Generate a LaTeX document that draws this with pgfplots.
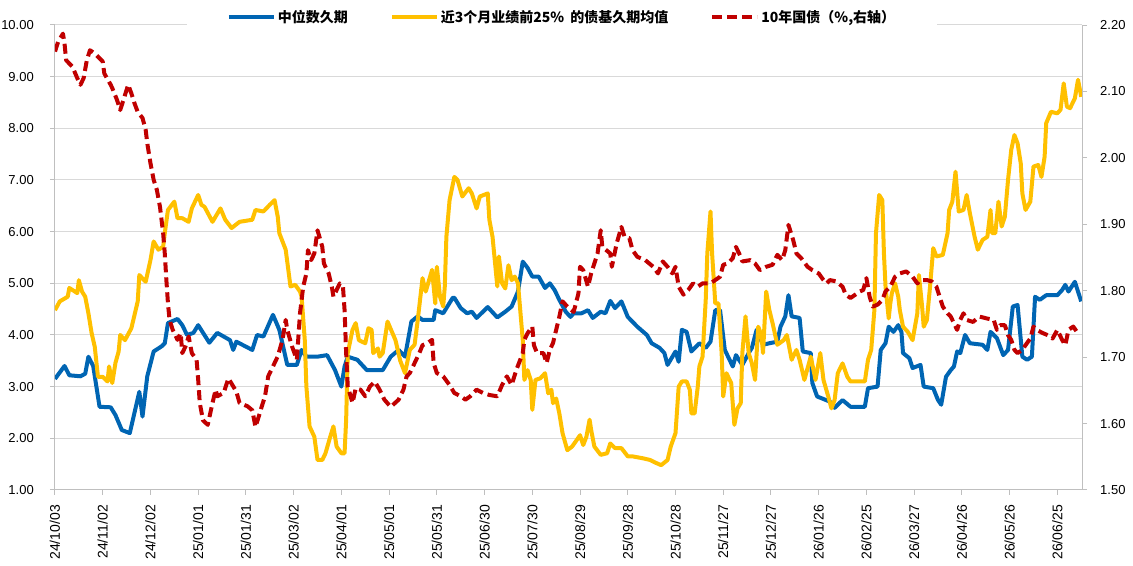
\documentclass[border=0pt]{standalone}
\usepackage{fontspec}
\setmainfont{Liberation Sans}
\newfontfamily\cjk{Noto Sans CJK SC}
\usepackage{pgfplots}
\pgfplotsset{compat=1.18}
\usepackage{pgfplotstable}

\definecolor{durblue}{RGB}{0,101,179}
\definecolor{duryellow}{RGB}{255,192,0}
\definecolor{bondred}{RGB}{192,0,0}
\definecolor{axisgray}{RGB}{191,191,191}
\definecolor{gridgray}{RGB}{217,217,217}

% x = calendar days since 2024-10-03
\pgfplotstableread{
d v
0 3.15
6 3.40
9 3.22
16 3.20
19 3.25
21 3.58
24 3.40
28 2.61
35 2.60
38 2.45
42 2.16
47 2.10
50 2.50
53 2.90
55 2.42
58 3.20
62 3.68
67 3.78
69 3.84
71 4.23
77 4.31
80 4.19
83 4.00
87 4.04
90 4.19
97 3.85
102 4.04
110 3.90
112 3.71
114 3.87
124 3.71
127 4.00
131 3.97
137 4.39
141 4.10
146 3.42
152 3.42
155 3.71
158 3.58
165 3.58
171 3.61
176 3.32
180 3.00
182 3.39
184 3.58
190 3.52
196 3.32
206 3.32
211 3.58
216 3.71
220 3.58
224 4.26
228 4.36
231 4.29
238 4.29
239 4.48
244 4.42
250 4.72
251 4.72
255 4.52
259 4.42
262 4.45
265 4.33
272 4.54
278 4.34
283 4.45
287 4.55
291 4.84
294 5.42
297 5.30
300 5.13
304 5.13
308 4.91
311 5.00
314 4.87
317 4.68
321 4.45
324 4.35
326 4.42
331 4.42
335 4.48
338 4.33
343 4.45
346 4.42
349 4.66
352 4.52
356 4.65
360 4.35
366 4.16
372 4.00
375 3.84
380 3.75
383 3.65
385 3.42
390 3.68
392 3.48
394 4.10
397 4.06
400 3.68
405 3.84
409 3.75
412 3.87
415 4.48
418 4.48
421 3.71
426 3.39
428 3.61
432 3.42
436 3.65
438 3.75
441 4.10
445 3.81
449 3.84
454 3.87
456 4.16
459 4.36
461 4.77
463 4.36
468 4.33
470 3.68
475 3.65
476 3.07
479 2.81
487 2.71
490 2.59
495 2.74
500 2.61
509 2.61
511 2.97
517 3.00
519 3.71
522 3.84
524 4.16
527 4.06
530 4.19
532 4.06
533 3.65
537 3.55
539 3.36
544 3.42
546 3.00
552 2.97
555 2.74
557 2.65
560 3.19
563 3.32
565 3.39
567 3.68
569 3.65
572 4.00
575 3.84
583 3.81
586 3.71
588 4.06
592 3.94
596 3.61
599 3.71
602 4.55
605 4.58
608 3.58
611 3.52
614 3.58
616 4.74
619 4.68
623 4.77
630 4.77
633 4.87
635 4.97
637 4.84
641 5.03
643 4.84
645 4.65
}\mediantable

\pgfplotstableread{
d v
0 4.48
3 4.65
8 4.74
9 4.91
11 4.87
14 4.81
15 5.06
17 4.84
19 4.74
21 4.42
23 4.04
25 3.77
27 3.19
30 3.19
33 3.10
34 3.39
36 3.07
38 3.46
40 3.68
41 4.00
44 3.90
48 4.13
52 4.65
53 5.16
57 5.03
60 5.45
62 5.81
65 5.65
68 5.71
69 5.97
71 6.42
75 6.58
77 6.26
80 6.26
84 6.19
86 6.45
90 6.71
92 6.52
94 6.48
99 6.19
104 6.45
107 6.23
111 6.07
116 6.19
124 6.23
126 6.42
131 6.39
135 6.52
138 6.61
140 6.29
141 5.97
145 5.65
148 4.94
151 4.97
154 4.84
155 4.74
157 3.90
158 3.00
160 2.23
163 2.03
165 1.58
168 1.58
170 1.71
173 2.03
175 2.23
177 1.84
180 1.71
182 1.71
183 2.36
184 3.65
187 4.10
189 4.23
191 3.90
195 3.84
197 4.13
199 4.10
200 3.65
203 3.74
204 3.58
206 3.65
209 4.26
214 3.90
217 3.50
220 3.26
223 3.71
226 3.81
228 4.29
231 5.10
233 4.84
237 5.26
239 4.61
240 5.32
242 4.74
244 4.55
245 4.94
246 5.90
248 6.61
251 7.06
253 7.00
256 6.68
260 6.84
262 6.74
265 6.45
267 6.68
272 6.74
273 6.23
275 5.90
278 4.94
279 5.52
281 5.00
283 4.90
285 5.35
287 5.06
289 5.13
291 5.00
294 3.90
295 3.13
297 3.32
299 3.13
300 2.55
302 3.13
305 3.16
308 3.26
310 2.87
312 2.94
313 2.68
315 2.77
317 2.48
319 2.10
322 1.77
325 1.84
328 1.97
330 2.06
332 1.87
334 2.03
336 2.36
337 2.16
339 1.84
343 1.68
347 1.71
349 1.90
352 1.81
356 1.81
360 1.65
363 1.65
370 1.61
374 1.58
378 1.52
381 1.48
385 1.58
387 1.84
390 2.10
392 3.00
394 3.10
397 3.10
399 2.94
400 2.48
402 2.48
404 3.00
405 3.39
407 3.58
409 4.68
410 5.58
412 6.39
413 5.58
415 4.61
417 4.61
419 3.65
420 2.81
422 3.26
425 3.07
427 2.26
429 2.58
431 2.68
432 3.65
434 4.36
436 3.65
438 3.45
440 3.13
442 4.16
444 4.00
445 3.65
447 4.84
449 4.48
451 4.23
454 3.81
458 3.90
460 4.00
463 3.52
466 3.71
468 3.52
471 3.13
475 3.58
478 3.13
481 3.65
483 3.13
486 2.81
488 2.58
490 2.74
492 3.26
495 3.45
498 3.19
500 3.10
509 3.10
511 3.52
513 3.71
515 4.48
516 5.97
518 6.71
520 6.61
521 5.58
522 4.94
524 4.32
525 4.61
526 4.81
528 5.00
530 4.74
531 4.48
533 4.16
536 4.06
539 3.90
542 4.42
543 5.16
545 4.55
546 4.16
548 4.29
550 4.94
552 5.68
554 5.52
558 5.55
561 5.97
562 6.42
564 6.58
566 7.16
568 6.39
571 6.42
573 6.71
575 6.36
578 5.90
580 5.65
583 5.84
586 5.90
588 6.42
589 5.97
591 5.97
593 6.58
595 6.10
597 6.29
599 7.00
601 7.58
603 7.87
605 7.71
607 7.32
608 6.74
610 6.42
613 6.58
615 7.26
618 7.29
620 7.06
622 7.45
623 8.10
626 8.32
630 8.29
632 8.36
634 8.87
636 8.42
638 8.39
641 8.58
643 8.94
645 8.61
}\toptable

\pgfplotstableread{
d r
0 2.160
2 2.175
5 2.187
6 2.172
7 2.147
11 2.137
14 2.120
16 2.110
18 2.120
20 2.147
22 2.162
25 2.157
30 2.145
31 2.127
35 2.110
36 2.105
39 2.087
41 2.072
43 2.087
46 2.110
48 2.097
50 2.082
52 2.069
55 2.060
57 2.042
58 2.022
60 1.992
62 1.967
64 1.952
66 1.926
68 1.886
69 1.856
70 1.816
71 1.781
72 1.756
74 1.741
77 1.726
79 1.736
80 1.706
82 1.716
84 1.731
86 1.706
89 1.696
90 1.666
91 1.631
93 1.605
96 1.598
99 1.631
101 1.651
102 1.641
106 1.646
109 1.668
112 1.656
114 1.648
116 1.631
121 1.626
124 1.620
126 1.595
128 1.610
130 1.626
132 1.641
134 1.671
137 1.686
140 1.701
143 1.726
145 1.756
146 1.741
149 1.716
152 1.696
154 1.766
156 1.806
158 1.826
159 1.861
161 1.846
163 1.856
165 1.891
168 1.866
169 1.841
172 1.826
174 1.806
175 1.791
179 1.811
181 1.806
182 1.771
183 1.706
184 1.656
187 1.631
189 1.653
192 1.651
195 1.641
198 1.656
201 1.663
204 1.651
207 1.636
211 1.625
216 1.636
219 1.651
221 1.671
223 1.676
226 1.691
229 1.706
231 1.718
234 1.721
237 1.726
238 1.691
240 1.676
244 1.671
248 1.658
251 1.646
255 1.641
258 1.636
261 1.641
265 1.651
269 1.646
273 1.643
278 1.641
281 1.658
284 1.671
287 1.658
290 1.681
294 1.706
295 1.726
297 1.736
300 1.746
301 1.718
303 1.706
307 1.706
309 1.691
311 1.711
313 1.721
315 1.741
317 1.761
319 1.784
322 1.776
326 1.768
329 1.796
330 1.836
332 1.831
335 1.806
337 1.826
341 1.856
343 1.891
344 1.866
349 1.856
350 1.836
353 1.871
356 1.896
358 1.881
361 1.879
363 1.861
366 1.851
371 1.846
376 1.836
379 1.826
382 1.844
385 1.836
388 1.826
390 1.836
392 1.806
395 1.794
398 1.801
401 1.811
404 1.806
407 1.811
412 1.811
415 1.816
418 1.821
420 1.839
423 1.841
426 1.849
428 1.866
431 1.851
432 1.844
437 1.846
440 1.841
443 1.831
447 1.836
451 1.839
454 1.854
457 1.846
459 1.861
461 1.899
464 1.876
466 1.856
469 1.849
473 1.836
476 1.831
480 1.826
483 1.816
485 1.811
487 1.816
491 1.814
495 1.806
497 1.794
500 1.789
503 1.794
506 1.799
508 1.801
510 1.819
512 1.791
514 1.776
517 1.779
520 1.786
522 1.799
525 1.806
528 1.821
531 1.826
535 1.829
539 1.821
542 1.811
544 1.816
548 1.816
551 1.814
554 1.806
556 1.791
558 1.776
561 1.766
563 1.761
566 1.746
567 1.741
569 1.756
571 1.766
573 1.756
577 1.753
581 1.761
586 1.758
590 1.756
592 1.741
594 1.748
597 1.748
599 1.733
601 1.726
603 1.711
605 1.706
608 1.711
610 1.718
613 1.728
615 1.746
617 1.741
621 1.736
624 1.733
627 1.728
630 1.741
633 1.726
635 1.718
637 1.741
640 1.746
642 1.739
645 1.739
}\bondtable

\pgfplotsset{
  common/.style={
    scale only axis, width=1027bp, height=465bp,
    xmin=0, xmax=645.5,
    axis line style={draw=axisgray, line width=1bp},
    tick style={draw=axisgray, line width=1bp},
    major tick length=5bp, tick align=outside,
    ticklabel style={font=\fontsize{13bp}{15bp}\selectfont, text=black},
    /pgf/number format/.cd, fixed, fixed zerofill, precision=2, assume math mode=true,
  },
  serie/.style={line width=4bp, line join=round},
}

\begin{document}
\begin{tikzpicture}
\begin{axis}[common,
  axis x line*=bottom, axis y line*=left,
  ymin=1, ymax=10, ytick={1,2,...,10},
  ymajorgrids, grid style={draw=gridgray, line width=1bp},
  xtick={0,30,...,630},
  xticklabels={24/10/03,24/11/02,24/12/02,25/01/01,25/01/31,25/03/02,25/04/01,25/05/01,25/05/31,25/06/30,25/07/30,25/08/29,25/09/28,25/10/28,25/11/27,25/12/27,26/01/26,26/02/25,26/03/27,26/04/26,26/05/26,26/06/25},
  xticklabel style={yshift=-10bp, rotate=90, anchor=east, inner sep=0pt,
    font=\fontsize{14bp}{16bp}\selectfont},
  yticklabel style={inner sep=0pt, xshift=-16bp},
]
\coordinate (bl) at (rel axis cs:0,0);
\coordinate (tr) at (rel axis cs:1,1);
\addplot[serie, durblue] table[x=d, y=v] {\mediantable};
\addplot[serie, duryellow] table[x=d, y=v] {\toptable};
\end{axis}

\begin{axis}[common,
  axis x line=none, axis y line*=right,
  ymin=1.5, ymax=2.2, ytick={1.5,1.6,1.7,1.8,1.9,2.0,2.1,2.2},
  yticklabel style={inner sep=0pt, xshift=13bp},
  legend columns=3,
  legend image code/.code={\draw[#1] (0bp,0bp) -- (45bp,0bp);},
  legend style={at={(0.4937,1)}, anchor=center, yshift=8bp,
    draw=none, fill=white, inner xsep=40bp, inner ysep=5bp,
    font=\cjk\bfseries\fontsize{14bp}{16bp}\selectfont,
    /tikz/every even column/.append style={column sep=40bp}},
  legend cell align=left,
]
\addlegendimage{serie, durblue}
\addlegendentry{中位数久期}
\addlegendimage{serie, duryellow}
\addlegendentry{近3个月业绩前25\%\hspace{3bp} 的债基久期均值}
\addplot[serie, bondred, dash pattern=on 10bp off 5bp] table[x=d, y=r] {\bondtable};
\addlegendentry{10年国债（\%,右轴）}
\end{axis}
\pgfresetboundingbox
\path[use as bounding box] ([xshift=-55bp,yshift=-76bp]bl) rectangle ([xshift=51bp,yshift=25bp]tr);
\end{tikzpicture}
\end{document}
